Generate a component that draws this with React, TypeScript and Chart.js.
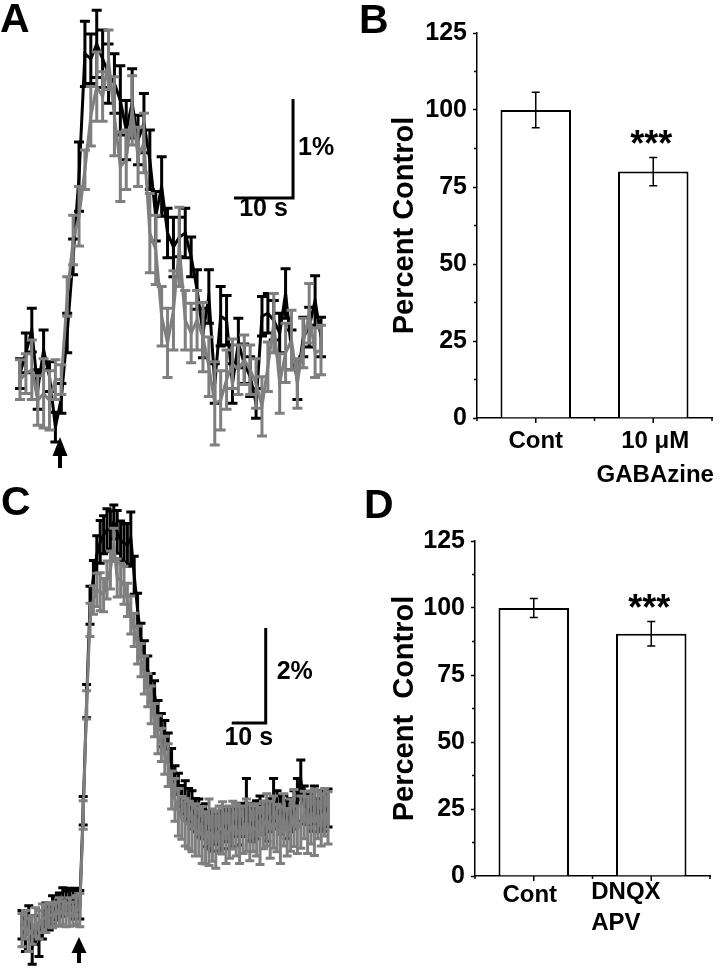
import React, { useEffect, useRef } from 'react';
import { Chart, registerables } from 'chart.js';

Chart.register(...registerables);

const FONT = '"Liberation Sans", Arial, Helvetica, sans-serif';
const BLACK = '#000000';
const GRAY = '#7f7f7f';
Chart.defaults.font.family = FONT;

// ---------------- Panel A (time course, % change) ----------------
const TIME_A = [0, 1, 2, 3, 4, 5, 6, 7, 8, 9, 10, 11, 12, 13, 14, 15, 16, 17, 18, 19, 20, 21, 22, 23, 24, 25,
  26, 27, 28, 29, 30, 31, 32, 33, 34, 35, 36, 37, 38, 39, 40, 41, 42, 43, 44, 45, 46, 47, 48, 49, 50, 51];
const CONTROL_A = [0.67, 0.88, 1.11, 0.51, 0.91, 0.64, 0.13, 0.42, 1.08, 1.85, 2.66, 3.9, 3.85, 4.0, 3.85, 3.7,
  3.6, 3.43, 3.13, 3.4, 3.03, 3.2, 2.83, 2.26, 2.56, 2.09, 1.95, 2.05, 2.09, 1.85, 1.52, 1.08, 1.45, 0.57, 1.25,
  1.21, 0.57, 0.98, 0.77, 0.64, 0.37, 1.25, 1.28, 1.21, 1.08, 1.48, 0.91, 0.61, 1.04, 1.14, 1.41, 1.04];
const CONTROL_A_ERR = [0.15, 0.2, 0.22, 0.2, 0.2, 0.15, 0.15, 0.15, 0.2, 0.18, 0.35, 0.33, 0.25, 0.34, 0.29, 0.3,
  0.3, 0.35, 0.3, 0.35, 0.25, 0.3, 0.3, 0.25, 0.3, 0.25, 0.3, 0.2, 0.25, 0.2, 0.2, 0.25, 0.27, 0.2, 0.3, 0.25,
  0.2, 0.25, 0.2, 0.2, 0.15, 0.2, 0.2, 0.2, 0.2, 0.25, 0.2, 0.2, 0.2, 0.2, 0.25, 0.2];
const DRUG_A = [0.61, 0.67, 0.71, 0.4, 0.47, 0.4, 0.61, 0.61, 1.45, 2.02, 2.26, 2.73, 3.27, 3.57, 3.47, 3.84,
  3.27, 2.76, 2.83, 3.33, 2.86, 3.0, 2.09, 1.92, 1.25, 0.98, 1.31, 1.95, 1.21, 1.08, 1.21, 1.04, 0.74, 0.37, 0.4,
  0.61, 0.77, 0.71, 0.81, 0.71, 0.57, 0.34, 0.74, 1.18, 0.57, 0.88, 1.01, 0.57, 0.98, 1.28, 0.88, 0.91];
const DRUG_A_ERR = [0.2, 0.2, 0.3, 0.25, 0.35, 0.3, 0.2, 0.15, 0.2, 0.25, 0.3, 0.2, 0.3, 0.35, 0.25, 0.3, 0.4,
  0.35, 0.3, 0.35, 0.3, 0.3, 0.4, 0.35, 0.3, 0.35, 0.4, 0.4, 0.3, 0.3, 0.3, 0.35, 0.3, 0.42, 0.3, 0.3, 0.25,
  0.25, 0.25, 0.25, 0.25, 0.3, 0.25, 0.3, 0.3, 0.3, 0.3, 0.25, 0.25, 0.3, 0.25, 0.25];

// ---------------- Panel C (time course, % change) ----------------
const TIME_C = [0, 1, 2, 3, 4, 5, 6, 7, 8, 9, 10, 11, 12, 13, 14, 15, 16, 17, 18, 19, 20, 21, 22, 23, 24, 25,
  26, 27, 28, 29, 30, 31, 32, 33, 34, 35, 36, 37, 38, 39, 40, 41, 42, 43, 44, 45, 46, 47, 48, 49, 50, 51, 52,
  53, 54, 55, 56, 57, 58, 59, 60, 61, 62, 63, 64, 65, 66, 67, 68, 69, 70, 71, 72, 73, 74, 75, 76, 77, 78, 79,
  80, 81, 82, 83, 84, 85, 86, 87, 88, 89, 90];
const CONTROL_C = [
  0.32, 0.11, 0.42, -0.11, 0.21, 0.0, 0.32, 0.53, 0.46, 0.63,
  0.67, 0.74, 0.8, 0.78, 0.84, 0.74, 0.84, 0.74, 2.72, 5.03,
  7.05, 7.64, 8.11, 8.38, 8.53, 8.63, 8.63, 8.8, 8.59, 8.42,
  8.36, 8.32, 8.46, 7.68, 6.95, 6.32, 6.0, 5.68, 5.31, 5.16,
  4.74, 4.42, 4.32, 4.06, 3.68, 3.37, 3.16, 2.95, 2.95, 2.84,
  2.74, 2.63, 2.57, 2.48, 2.42, 2.32, 2.27, 2.36, 2.27, 2.32,
  2.42, 2.32, 2.36, 2.53, 2.4, 2.53, 2.95, 2.48, 2.42, 2.53,
  2.63, 2.57, 2.48, 2.63, 2.95, 2.74, 2.63, 2.69, 2.53, 2.63,
  2.74, 2.95, 3.37, 2.84, 2.78, 2.69, 2.84, 2.63, 2.74, 2.69,
  2.78];
const CONTROL_C_ERR = [
  0.3, 0.35, 0.3, 0.4, 0.3, 0.35, 0.3, 0.25, 0.25, 0.3,
  0.25, 0.25, 0.3, 0.25, 0.25, 0.3, 0.25, 0.3, 0.3, 0.35,
  0.4, 0.35, 0.4, 0.45, 0.4, 0.45, 0.4, 0.36, 0.45, 0.4,
  0.4, 0.45, 0.55, 0.4, 0.35, 0.35, 0.3, 0.3, 0.3, 0.3,
  0.3, 0.35, 0.3, 0.3, 0.35, 0.3, 0.35, 0.3, 0.4, 0.35,
  0.4, 0.35, 0.4, 0.35, 0.45, 0.4, 0.4, 0.35, 0.4, 0.4,
  0.35, 0.4, 0.4, 0.35, 0.4, 0.35, 0.45, 0.4, 0.35, 0.4,
  0.4, 0.35, 0.4, 0.35, 0.45, 0.4, 0.4, 0.35, 0.4, 0.35,
  0.4, 0.45, 0.42, 0.4, 0.35, 0.4, 0.4, 0.35, 0.4, 0.4,
  0.4];
const DRUG_C = [
  0.21, 0.32, 0.11, 0.21, 0.38, 0.32, 0.46, 0.46, 0.53, 0.51,
  0.55, 0.59, 0.57, 0.53, 0.59, 0.55, 0.63, 0.63, 2.63, 4.95,
  6.74, 7.16, 7.37, 7.33, 7.26, 7.58, 7.79, 8.32, 7.62, 7.58,
  7.47, 7.16, 6.84, 6.53, 6.21, 5.89, 5.58, 5.26, 4.95, 4.63,
  4.32, 4.11, 3.89, 3.68, 3.16, 2.95, 2.69, 2.57, 2.48, 2.42,
  2.36, 2.32, 2.27, 2.21, 2.15, 2.27, 2.21, 2.11, 2.32, 2.36,
  2.21, 2.27, 2.42, 2.32, 2.21, 2.32, 2.42, 2.27, 2.36, 2.32,
  2.19, 2.42, 2.53, 2.32, 2.48, 2.36, 2.21, 2.53, 2.27, 2.42,
  2.57, 2.32, 2.48, 2.63, 2.42, 2.57, 2.48, 2.63, 2.53, 2.69,
  2.57];
const DRUG_C_ERR = [
  0.35, 0.3, 0.35, 0.3, 0.3, 0.3, 0.3, 0.3, 0.25, 0.25,
  0.25, 0.3, 0.25, 0.25, 0.3, 0.25, 0.3, 0.35, 0.3, 0.3,
  0.35, 0.3, 0.35, 0.4, 0.35, 0.4, 0.4, 0.35, 0.4, 0.35,
  0.4, 0.35, 0.4, 0.35, 0.4, 0.35, 0.4, 0.35, 0.4, 0.35,
  0.4, 0.35, 0.4, 0.45, 0.4, 0.45, 0.5, 0.45, 0.5, 0.5,
  0.5, 0.55, 0.5, 0.6, 0.55, 0.7, 0.55, 0.6, 0.5, 0.55,
  0.6, 0.55, 0.5, 0.55, 0.6, 0.5, 0.55, 0.6, 0.5, 0.55,
  0.6, 0.5, 0.55, 0.6, 0.55, 0.5, 0.6, 0.55, 0.5, 0.55,
  0.6, 0.5, 0.55, 0.5, 0.6, 0.55, 0.7, 0.5, 0.55, 0.5,
  0.55];

// ---------------- Panels B and D (bar charts) ----------------
const CATEGORIES_B = ['Cont', '10 μM GABAzine'];
const TICK_LABELS_B = [['Cont'], ['10 μM', 'GABAzine']];
const VALUES_B = [100, 80];
const ERRORS_B = [5.8, 4.6];
const SIGNIF_B = ['', '***'];

const CATEGORIES_D = ['Cont', 'DNQX APV'];
const TICK_LABELS_D = [['Cont'], ['DNQX', 'APV']];
const VALUES_D = [100, 90.4];
const ERRORS_D = [3.5, 4.6];
const SIGNIF_D = ['', '***'];

const Y_MIN_BAR = 0;
const Y_MAX_BAR = 125;
const Y_STEP_BAR = 25;
const Y_MINOR_BAR = [12.5, 37.5, 62.5, 87.5, 112.5];

// ---------------- plugins ----------------
const errorBarPlugin = {
  id: 'errorBars',
  afterDatasetDraw(chart: any, args: any) {
    const ds: any = chart.data.datasets[args.index];
    if (!ds.errors) return;
    const ctx = chart.ctx;
    const ys = chart.scales.y;
    const cap = ds.capHalf ?? 4;
    ctx.save();
    ctx.strokeStyle = ds.errColor ?? ds.borderColor;
    ctx.lineWidth = ds.errWidth ?? 2;
    ctx.beginPath();
    args.meta.data.forEach((el: any, i: number) => {
      const d = ds.data[i];
      const v = typeof d === 'number' ? d : d.y;
      const e = ds.errors[i];
      const yHi = ys.getPixelForValue(v + e);
      const yLo = ys.getPixelForValue(v - e);
      ctx.moveTo(el.x, yHi); ctx.lineTo(el.x, yLo);
      ctx.moveTo(el.x - cap, yHi); ctx.lineTo(el.x + cap, yHi);
      ctx.moveTo(el.x - cap, yLo); ctx.lineTo(el.x + cap, yLo);
    });
    ctx.stroke();
    if (ds.signif) {
      ctx.fillStyle = BLACK;
      ctx.font = `bold 36px ${FONT}`;
      ctx.textAlign = 'center';
      ctx.textBaseline = 'alphabetic';
      args.meta.data.forEach((el: any, i: number) => {
        if (!ds.signif[i]) return;
        const yHi = ys.getPixelForValue(ds.data[i] + ds.errors[i]);
        ctx.fillText(ds.signif[i], el.x - 2, yHi - 1);
      });
    }
    ctx.restore();
  },
};

const letterPlugin = {
  id: 'panelLetter',
  afterDraw(chart: any, _a: any, opts: any) {
    if (!opts || !opts.text) return;
    const ctx = chart.ctx;
    ctx.save();
    ctx.fillStyle = BLACK;
    ctx.font = `bold 41px ${FONT}`;
    ctx.textAlign = 'left';
    ctx.textBaseline = 'alphabetic';
    ctx.fillText(opts.text, opts.x, opts.y);
    ctx.restore();
  },
};

const traceDecorPlugin = {
  id: 'traceDecor',
  afterDraw(chart: any, _a: any, opts: any) {
    const ctx = chart.ctx;
    const xs = chart.scales.x;
    const ys = chart.scales.y;
    const sb = opts.scaleBar;
    const x1 = xs.getPixelForValue(sb.t);
    const x0 = xs.getPixelForValue(sb.t - sb.dt);
    const y0 = ys.getPixelForValue(sb.v);
    const y1 = ys.getPixelForValue(sb.v + sb.dv);
    ctx.save();
    ctx.strokeStyle = BLACK;
    ctx.lineWidth = 3;
    ctx.lineCap = 'butt';
    ctx.lineJoin = 'miter';
    ctx.beginPath();
    ctx.moveTo(x0, y0);
    ctx.lineTo(x1, y0);
    ctx.lineTo(x1, y1);
    ctx.stroke();
    ctx.fillStyle = BLACK;
    ctx.font = `bold 25px ${FONT}`;
    ctx.textBaseline = 'middle';
    ctx.textAlign = 'left';
    ctx.fillText(sb.yLabel, x1 + sb.yLabelDx, (y0 + y1) / 2 + sb.yLabelDy);
    ctx.textAlign = 'center';
    ctx.fillText(sb.xLabel, (x0 + x1) / 2, y0 + sb.xLabelDy);
    // stimulus arrow
    const ar = opts.arrow;
    const ax = xs.getPixelForValue(ar.t);
    ctx.beginPath();
    ctx.moveTo(ax, ar.tip);
    ctx.lineTo(ax - 7.5, ar.base);
    ctx.lineTo(ax + 7.5, ar.base);
    ctx.closePath();
    ctx.fill();
    ctx.fillRect(ax - 2, ar.base - 1, 4, ar.bottom - ar.base + 1);
    ctx.restore();
  },
};

const barDecorPlugin = {
  id: 'barDecor',
  afterDraw(chart: any, _a: any, opts: any) {
    const ctx = chart.ctx;
    const xs = chart.scales.x;
    const ys = chart.scales.y;
    const area = chart.chartArea;
    ctx.save();
    ctx.strokeStyle = BLACK;
    ctx.lineWidth = 1.5;
    ctx.beginPath();
    // minor y ticks
    Y_MINOR_BAR.forEach((v) => {
      const y = ys.getPixelForValue(v);
      ctx.moveTo(area.left - 3, y);
      ctx.lineTo(area.left, y);
    });
    // x ticks: major at categories, minor at category boundaries
    const n = chart.data.labels.length;
    for (let i = 0; i < n; i++) {
      const x = xs.getPixelForValue(i);
      ctx.moveTo(x, area.bottom);
      ctx.lineTo(x, area.bottom + 5);
    }
    for (let i = 0; i <= n; i++) {
      const x = xs.getPixelForValue(i - 0.5);
      ctx.moveTo(x, area.bottom);
      ctx.lineTo(x, area.bottom + 3);
    }
    ctx.stroke();
    // category labels
    ctx.fillStyle = BLACK;
    ctx.font = `bold 24px ${FONT}`;
    ctx.textBaseline = 'middle';
    opts.labels.forEach((lines: string[], i: number) => {
      const al = opts.align[i];
      const x = xs.getPixelForValue(i) + al.dx;
      ctx.textAlign = al.a;
      lines.forEach((ln: string, j: number) => {
        ctx.fillText(ln, x, area.bottom + opts.firstLine + al.dy + j * opts.lineHeight);
      });
    });
    ctx.restore();
  },
};

// ---------------- chart configs ----------------
function traceConfig(time: number[], ctrl: number[], ctrlErr: number[], drug: number[], drugErr: number[], o: any) {
  const pts = (vals: number[]) => time.map((t, i) => ({ x: t, y: vals[i] }));
  return {
    type: 'line',
    data: {
      datasets: [
        { label: 'drug', data: pts(drug), errors: drugErr, borderColor: GRAY, borderWidth: o.lw,
          errWidth: o.ew, capHalf: o.cap, pointRadius: 0, tension: 0, clip: false },
        { label: 'control', data: pts(ctrl), errors: ctrlErr, borderColor: BLACK, borderWidth: o.lw,
          errWidth: o.ew, capHalf: o.cap, pointRadius: 0, tension: 0, clip: false },
      ],
    },
    options: {
      animation: false,
      responsive: false,
      devicePixelRatio: 1,
      layout: { padding: o.padding },
      scales: {
        x: { type: 'linear', display: false, min: o.xMin, max: o.xMax },
        y: { type: 'linear', display: false, min: o.yMin, max: o.yMax },
      },
      plugins: {
        legend: { display: false },
        tooltip: { enabled: false },
        traceDecor: { scaleBar: o.scaleBar, arrow: o.arrow },
        panelLetter: o.letter,
      },
    },
    plugins: [errorBarPlugin, traceDecorPlugin, letterPlugin],
  };
}

function barConfig(cats: string[], vals: number[], errs: number[], sig: string[], o: any) {
  return {
    type: 'bar',
    data: {
      labels: cats,
      datasets: [{
        data: vals, errors: errs, signif: sig, backgroundColor: '#ffffff', borderColor: BLACK,
        borderWidth: 2, errColor: BLACK, errWidth: 1.5, capHalf: 4, barPercentage: 0.6, categoryPercentage: 1,
      }],
    },
    options: {
      animation: false,
      responsive: false,
      devicePixelRatio: 1,
      layout: { padding: o.padding },
      scales: {
        x: {
          type: 'category', offset: true,
          grid: { display: false }, ticks: { display: false },
          border: { display: true, color: BLACK, width: 1.5 },
          afterFit: (s: any) => { s.height = o.xHeight; },
        },
        y: {
          min: Y_MIN_BAR, max: Y_MAX_BAR,
          ticks: { stepSize: Y_STEP_BAR, color: BLACK, padding: 6, font: { family: FONT, size: 25, weight: 'bold' } },
          grid: { drawOnChartArea: false, tickLength: 4, tickColor: BLACK, tickWidth: 1.5 },
          border: { display: true, color: BLACK, width: 1.5 },
          title: { display: true, text: o.title, color: BLACK, padding: { top: 50, bottom: 0 },
            font: { family: FONT, size: 29, weight: 'bold', lineHeight: 1 } },
          afterFit: (s: any) => { s.width = o.yWidth; },
        },
      },
      plugins: {
        legend: { display: false },
        tooltip: { enabled: false },
        barDecor: { labels: o.labels, align: o.align, firstLine: o.firstLine, lineHeight: o.lineHeight },
        panelLetter: o.letter,
      },
    },
    plugins: [errorBarPlugin, barDecorPlugin, letterPlugin],
  };
}

const configA = () => traceConfig(TIME_A, CONTROL_A, CONTROL_A_ERR, DRUG_A, DRUG_A_ERR, {
  lw: 3, ew: 3, cap: 5,
  padding: { left: 20, right: 19, top: 10, bottom: 20 },
  xMin: 0, xMax: 51, yMin: -0.202, yMax: 4.343,
  scaleBar: { t: 46.26, v: 2.444, dt: 10, dv: 1, xLabel: '10 s', yLabel: '1%', yLabelDx: 5, yLabelDy: 0, xLabelDy: 11 },
  arrow: { t: 6.78, tip: 437, base: 456, bottom: 468 },
  letter: { text: 'A', x: 0, y: 32 },
});

const configC = () => traceConfig(TIME_C, CONTROL_C, CONTROL_C_ERR, DRUG_C, DRUG_C_ERR, {
  lw: 3, ew: 3, cap: 4.5,
  padding: { left: 22, right: 12, top: 10, bottom: 5 },
  xMin: 0, xMax: 90, yMin: -0.632, yMax: 9.474,
  scaleBar: { t: 71.68, v: 4.568, dt: 10, dv: 2, xLabel: '10 s', yLabel: '2%', yLabelDx: 11, yLabelDy: -3, xLabelDy: 15 },
  arrow: { t: 16.76, tip: 457, base: 473, bottom: 483 },
  letter: { text: 'C', x: 1, y: 35 },
});

const configB = () => barConfig(CATEGORIES_B, VALUES_B, ERRORS_B, SIGNIF_B, {
  padding: { left: 0, right: 9, top: 33, bottom: 0 },
  xHeight: 72, yWidth: 137, title: 'Percent Control',
  labels: TICK_LABELS_B,
  align: [{ a: 'center', dx: 0, dy: 0 }, { a: 'center', dx: 2, dy: 0 }],
  firstLine: 23, lineHeight: 34,
  letter: { text: 'B', x: 19, y: 33 },
});

const configD = () => barConfig(CATEGORIES_D, VALUES_D, ERRORS_D, SIGNIF_D, {
  padding: { left: 0, right: 11, top: 61, bottom: 0 },
  xHeight: 99, yWidth: 135, title: 'Percent  Control',
  labels: TICK_LABELS_D,
  align: [{ a: 'center', dx: -4, dy: 0 }, { a: 'left', dx: -60, dy: -3 }],
  firstLine: 19, lineHeight: 31,
  letter: { text: 'D', x: 24, y: 38 },
});

function ChartCanvas(props: { left: number; top: number; width: number; height: number; make: () => any }) {
  const ref = useRef<HTMLCanvasElement>(null);
  useEffect(() => {
    const chart = new Chart(ref.current as HTMLCanvasElement, props.make());
    return () => chart.destroy();
  }, []);
  const { left, top, width, height } = props;
  return (
    <canvas
      ref={ref}
      width={width}
      height={height}
      style={{ position: 'absolute', left, top, width, height, display: 'block' }}
    />
  );
}

export default function App() {
  return (
    <div style={{ position: 'absolute', left: 0, top: 0, width: 721, height: 975, background: '#ffffff', overflow: 'hidden' }}>
      <ChartCanvas left={0} top={0} width={340} height={480} make={configA} />
      <ChartCanvas left={340} top={0} width={381} height={490} make={configB} />
      <ChartCanvas left={0} top={480} width={340} height={495} make={configC} />
      <ChartCanvas left={340} top={480} width={381} height={495} make={configD} />
    </div>
  );
}
